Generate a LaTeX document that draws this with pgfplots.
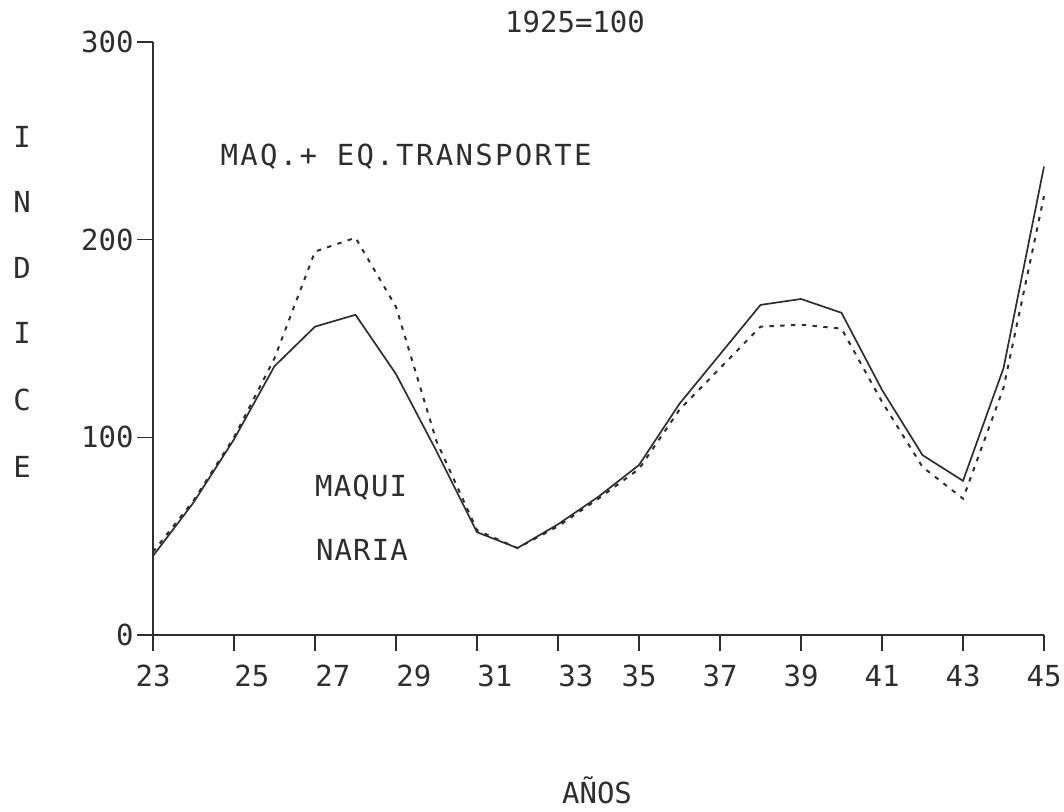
\documentclass[border=0pt]{standalone}
\usepackage{fontspec}
\setmainfont{DejaVu Sans Mono}
\usepackage{pgfplots}
\pgfplotsset{compat=1.18}
\newcommand\plt{\fontsize{14.5}{17}\selectfont}
\definecolor{ink}{gray}{0.18}

% year, maquinaria (solid), maq.+eq.transporte (dotted)
\pgfplotstableread{
year maq maqeq
23 40 42
24 67 68
25 99 100
26 136 140
27 156 194
28 162 201
29 132 166
30 93 98
31 52 53
32 44 44
33 56 55
34 70 69
35 86 84
36 117 114
37 142 135
38 167 156
39 170 157
40 163 155
41 124 118
42 91 85
43 78 69
44 135 125
45 237 222
}\datatab

\begin{document}
\begin{tikzpicture}[x=0.5pt,y=0.5pt]
\useasboundingbox (0,0) rectangle (1064,811);
\begin{axis}[
  at={(76.5pt,88pt)}, anchor=south west,
  scale only axis, width=445.5pt, height=296.5pt,
  xmin=23, xmax=45, ymin=0, ymax=300,
  axis x line=bottom, axis y line=left,
  axis line style={-, ink, line width=0.7pt},
  tick align=outside, major tick length=8pt,
  tick style={ink, line width=0.7pt},
  xtick={23,25,...,45}, xticklabel={\mbox{}},
  extra x ticks={23,25.44,27.44,29.44,31.44,33.44,35,37,39,41,43,45},
  extra x tick labels={23,25,27,29,31,33,35,37,39,41,43,45},
  extra x tick style={major tick length=0pt, xticklabel style={yshift=-11.5pt}},
  ytick={0,100,200,300}, yticklabels={0,100,200,300},
  yticklabel style={inner sep=1.5pt},
  ticklabel style={font=\plt, text=ink},
  clip=false,
]
\addplot[ink, line width=0.85pt] table[x=year,y=maq] {\datatab};
\addplot[ink, line width=1pt, dash pattern=on 2.2pt off 3.2pt] table[x=year,y=maqeq] {\datatab};
\node[anchor=base, font=\plt\addfontfeature{LetterSpace=8}, text=ink] at (axis cs:29.25,237.7) {MAQ.+ EQ.TRANSPORTE};
\node[anchor=base, font=\plt\addfontfeature{LetterSpace=4}, text=ink] at (axis cs:28.14,70.3) {MAQUI};
\node[anchor=base, font=\plt\addfontfeature{LetterSpace=4}, text=ink] at (axis cs:28.16,37.9) {NARIA};
\end{axis}
\node[anchor=base, font=\plt, text=ink] at (575,778) {1925=100};
\node[anchor=base, font=\plt, text=ink] at (597,8) {AÑOS};
\foreach \c/\yy in {I/664,N/599,D/533,I/468,C/401,E/334}
  \node[anchor=base, font=\plt, text=ink] at (22,\yy) {\c};
\end{tikzpicture}
\end{document}
